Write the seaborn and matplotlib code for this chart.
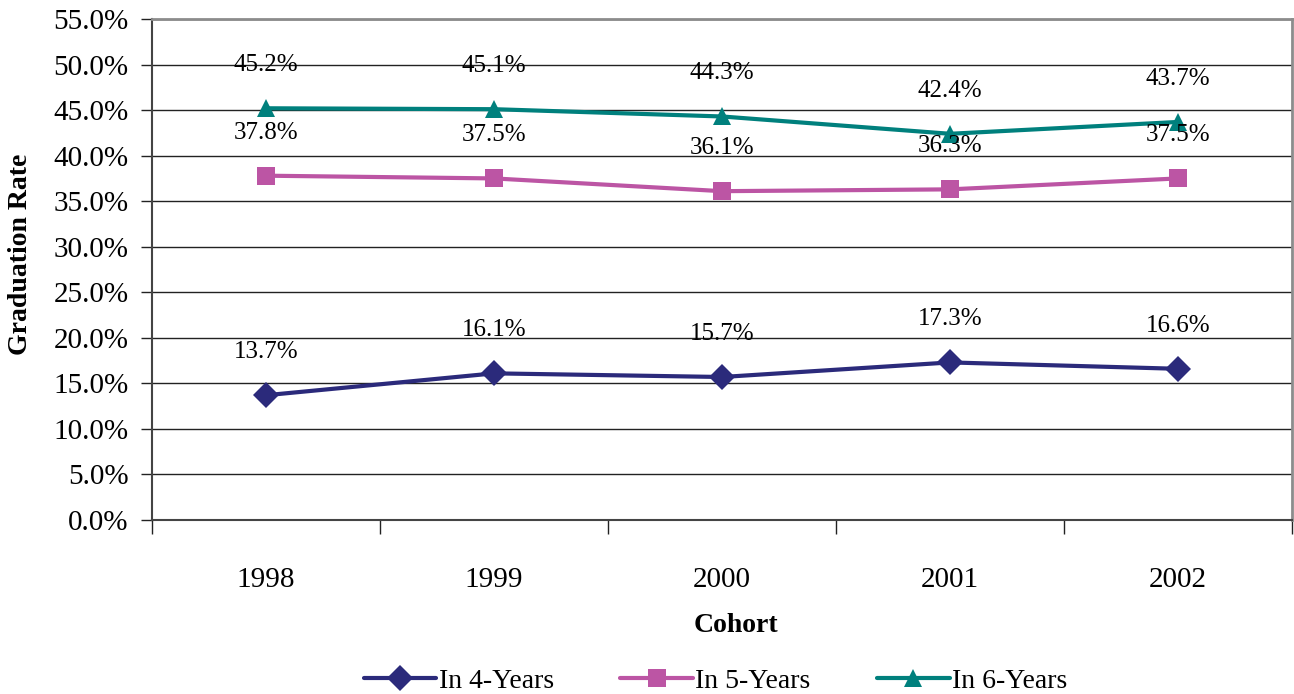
import seaborn as sns
import matplotlib.pyplot as plt
import pandas as pd
from matplotlib.ticker import FixedLocator, PercentFormatter

sns.set_style("white")
plt.rcParams['font.family'] = ['Liberation Serif', 'DejaVu Serif']
plt.rcParams['text.color'] = 'black'
plt.rcParams['xtick.color'] = 'black'
plt.rcParams['ytick.color'] = 'black'
plt.rcParams['axes.labelcolor'] = 'black'

cohorts = ["1998", "1999", "2000", "2001", "2002"]
in_4_years = [13.7, 16.1, 15.7, 17.3, 16.6]
in_5_years = [37.8, 37.5, 36.1, 36.3, 37.5]
in_6_years = [45.2, 45.1, 44.3, 42.4, 43.7]
series_names = ["In 4-Years", "In 5-Years", "In 6-Years"]

df = pd.DataFrame({
    'Cohort': cohorts * 3,
    'Rate': in_4_years + in_5_years + in_6_years,
    'Series': [s for s in series_names for _ in cohorts],
})
df['x'] = df['Cohort'].map({c: i for i, c in enumerate(cohorts)})

colors = {"In 4-Years": "#2B2A7B", "In 5-Years": "#BC55A4", "In 6-Years": "#00807D"}
markers = {"In 4-Years": "D", "In 5-Years": "s", "In 6-Years": "^"}

fig = plt.figure(figsize=(12.94, 6.94), dpi=100)
ax = fig.add_axes([0.1175, 0.2507, 0.881, 0.7219])

sns.lineplot(data=df, x='x', y='Rate', hue='Series', style='Series',
             palette=colors, markers=markers, dashes=False, linewidth=3,
             markersize=13, markeredgewidth=0, ax=ax, legend=False)

# data labels above points
for _, row in df.iterrows():
    ax.annotate(f"{row['Rate']:.1f}%", (row['x'], row['Rate']),
                xytext=(0, 31), textcoords='offset points',
                ha='center', va='center', fontsize=18)

ax.set_xlim(-0.5, 4.5)
ax.set_ylim(0, 55)
ax.yaxis.set_major_locator(FixedLocator(range(0, 60, 5)))
ax.yaxis.set_major_formatter(PercentFormatter(decimals=1))
ax.set_xticks(range(len(cohorts)))
ax.set_xticklabels(cohorts)
ax.xaxis.set_minor_locator(FixedLocator([i - 0.5 for i in range(len(cohorts) + 1)]))
ax.tick_params(axis='x', which='major', length=0, pad=34, labelsize=21)
ax.tick_params(axis='x', which='minor', length=10, width=1, direction='out',
               color='#222222', bottom=True)
ax.tick_params(axis='y', length=8, width=1, direction='out', left=True,
               color='#222222', pad=9, labelsize=21)

ax.grid(axis='y', color='#222222', linewidth=1)
ax.set_axisbelow(True)
for side in ['top', 'right']:
    ax.spines[side].set_color('#8c8c8c')
    ax.spines[side].set_linewidth(2)
ax.spines['left'].set_color('#444444')
ax.spines['left'].set_linewidth(1.5)
ax.spines['bottom'].set_color('#444444')
ax.spines['bottom'].set_linewidth(1.5)

ax.set_xlabel("Cohort", fontsize=20, fontweight='bold')
ax.xaxis.set_label_coords(0.512, -0.185)
ax.set_ylabel("Graduation Rate", fontsize=20, fontweight='bold')
ax.yaxis.set_label_coords(-0.104, 0.53)

handles = [plt.Line2D([], [], color=colors[s], marker=markers[s], lw=3,
                      markersize=13, markeredgewidth=0) for s in series_names]
fig.legend(handles, series_names, loc='lower center', ncol=3, frameon=False,
           bbox_to_anchor=(0.553, -0.028), fontsize=20, handlelength=2.6,
           handletextpad=0.1, columnspacing=2.4, borderpad=0.2)

plt.savefig('out.png', dpi=100)
